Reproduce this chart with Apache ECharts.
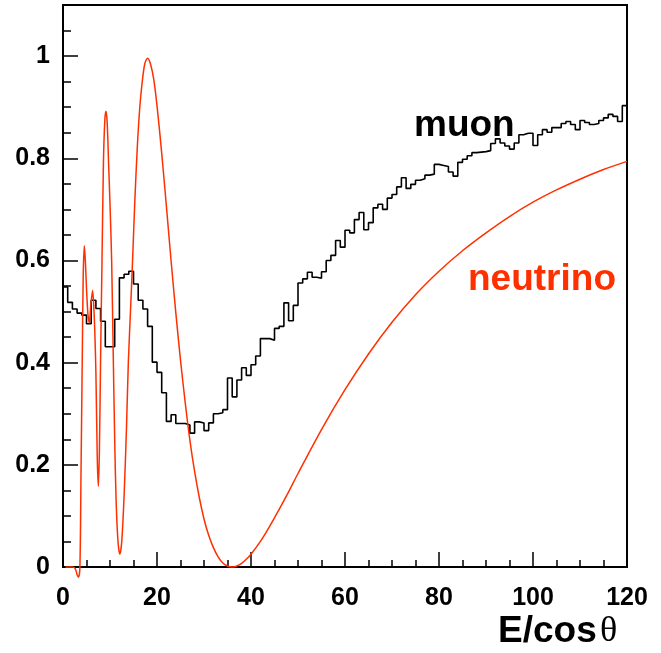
<!DOCTYPE html>
<html>
<head>
<meta charset="utf-8">
<script src="https://cdn.jsdelivr.net/npm/echarts@6/dist/echarts.min.js"></script>
<style>
html,body{margin:0;padding:0;background:#fff;}
#chart{width:661px;height:653px;}
</style>
</head>
<body>
<div id="chart"></div>
<script>
// ---- data ----
var xTickLabels = ['0','20','40','60','80','100','120'];
var yTickLabels = ['0','0.2','0.4','0.6','0.8','1'];

// muon histogram: bins of width 1 starting at 0
var muonBinStart = 0;
var muonBinWidth = 1;
var muonValues = [
  0.548,0.518,0.505,0.497,0.493,0.476,0.522,0.506,0.481,0.431,
  0.431,0.485,0.566,0.573,0.579,0.554,0.522,0.505,0.471,0.401,
  0.381,0.341,0.285,0.298,0.281,0.281,0.278,0.262,0.284,0.282,
  0.267,0.282,0.300,0.302,0.308,0.370,0.333,0.366,0.390,0.375,
  0.396,0.413,0.447,0.447,0.444,0.467,0.471,0.517,0.482,0.512,
  0.556,0.564,0.577,0.567,0.565,0.578,0.600,0.610,0.639,0.626,
  0.659,0.654,0.680,0.694,0.660,0.674,0.703,0.710,0.700,0.722,
  0.729,0.744,0.762,0.741,0.749,0.757,0.760,0.767,0.769,0.788,
  0.786,0.784,0.773,0.765,0.792,0.798,0.805,0.811,0.812,0.813,
  0.815,0.829,0.838,0.830,0.824,0.818,0.830,0.846,0.849,0.849,
  0.825,0.846,0.856,0.851,0.860,0.860,0.868,0.872,0.866,0.856,
  0.874,0.870,0.866,0.868,0.874,0.879,0.886,0.882,0.872,0.903
];

// neutrino curve sampled points
var neutrinoX = [
  0.5,2.0,2.6,3.0,3.3,3.6,3.85,4.1,4.3,4.54,4.75,5.0,5.3,5.6,5.9,6.3,6.6,6.8,7.0,7.3,
  7.52,7.75,8.0,8.3,8.6,8.9,9.15,9.4,9.7,10.0,10.35,10.7,11.0,11.3,11.7,12.1,12.5,13.0,13.5,13.9,
  14.4,14.8,15.3,15.8,16.3,16.8,17.4,18.0,18.6,19.3,20,21,22,23,24,25,26,27,28,29,
  30,31,32,33,34,35,36,37,38,39,40,42,44,46,48,50,55,60,65,70,
  75,80,85,90,95,100,105,110,115,120
];
var neutrinoY = [
  0,0,-0.003,-0.015,-0.02,0.0,0.2,0.41,0.57,0.629,0.60,0.545,0.495,0.478,0.51,0.541,0.50,0.45,0.38,0.21,
  0.158,0.23,0.41,0.60,0.79,0.875,0.892,0.87,0.79,0.71,0.60,0.41,0.25,0.13,0.05,0.025,0.05,0.14,0.27,0.40,
  0.51,0.60,0.72,0.82,0.895,0.945,0.985,0.996,0.985,0.955,0.903,0.810,0.706,0.599,0.498,0.405,0.322,0.248,0.187,0.136,
  0.094,0.062,0.038,0.020,0.008,0.002,0.000,0.002,0.007,0.015,0.025,0.050,0.080,0.113,0.147,0.183,0.269,0.347,0.417,0.479,
  0.533,0.579,0.619,0.654,0.686,0.714,0.738,0.759,0.778,0.794
];

// ---- build series data ----
var muonData = [];
for (var i = 0; i < muonValues.length; i++) {
  muonData.push([muonBinStart + i * muonBinWidth, muonValues[i]]);
}
muonData.push([muonBinStart + muonValues.length * muonBinWidth, muonValues[muonValues.length - 1]]);

var neutrinoData = [];
for (var j = 0; j < neutrinoX.length; j++) neutrinoData.push([neutrinoX[j], neutrinoY[j]]);

var RED = '#ff3000';
var FONT = 'Liberation Sans, Arial, sans-serif';

var chart = echarts.init(document.getElementById('chart'), null, {renderer: 'canvas'});
chart.setOption({
  animation: false,
  backgroundColor: '#fff',
  grid: {left: 63, right: 34, top: 5, bottom: 86, show: true, borderColor: '#000', borderWidth: 2, backgroundColor: 'transparent'},
  xAxis: {
    type: 'value', min: 0, max: 120, interval: 20,
    axisLine: {show: true, onZero: false, lineStyle: {color: '#000', width: 2}},
    axisTick: {show: true, inside: true, length: 15, lineStyle: {color: '#000', width: 1.5}},
    minorTick: {show: true, splitNumber: 4, length: 7, lineStyle: {color: '#000', width: 1.5}},
    splitLine: {show: false},
    axisLabel: {
      color: '#000', fontFamily: FONT, fontWeight: 'bold', fontSize: 25, margin: 19,
      formatter: function (v) { var k = Math.round(v / 20); return Math.abs(v - k * 20) < 1e-6 ? xTickLabels[k] : ''; }
    }
  },
  yAxis: {
    type: 'value', min: 0, max: 1.1, interval: 0.2,
    axisLine: {show: true, onZero: false, lineStyle: {color: '#000', width: 2}},
    axisTick: {show: true, inside: true, length: 15, lineStyle: {color: '#000', width: 1.5}},
    minorTick: {show: true, splitNumber: 4, length: 8, lineStyle: {color: '#000', width: 1.5}},
    splitLine: {show: false},
    axisLabel: {
      color: '#000', fontFamily: FONT, fontWeight: 'bold', fontSize: 25, margin: 13,
      formatter: function (v) { var k = Math.round(v / 0.2); return (Math.abs(v - k * 0.2) < 1e-6 && k < yTickLabels.length) ? yTickLabels[k] : ''; }
    }
  },
  series: [
    {
      name: 'muon', type: 'line', data: muonData, step: 'end', showSymbol: false, symbol: 'none',
      lineStyle: {color: '#000', width: 1.6}, z: 3
    },
    {
      name: 'neutrino', type: 'line', data: neutrinoData, smooth: 0.3, showSymbol: false, symbol: 'none',
      clip: false, lineStyle: {color: RED, width: 1.5}, z: 4
    }
  ],
  graphic: [
    {type: 'text', left: 414, top: 107, style: {text: 'muon', fill: '#000', font: 'bold 37px ' + FONT}},
    {type: 'text', left: 468, top: 261, style: {text: 'neutrino', fill: RED, font: 'bold 37px ' + FONT}},
    {type: 'text', left: 498, top: 613, style: {text: 'E/cos', fill: '#000', font: 'bold 37px ' + FONT}},
    {type: 'text', left: 600, top: 614, style: {text: 'θ', fill: '#000', font: '36px Liberation Serif, DejaVu Serif, serif'}}
  ]
});
</script>
</body>
</html>
